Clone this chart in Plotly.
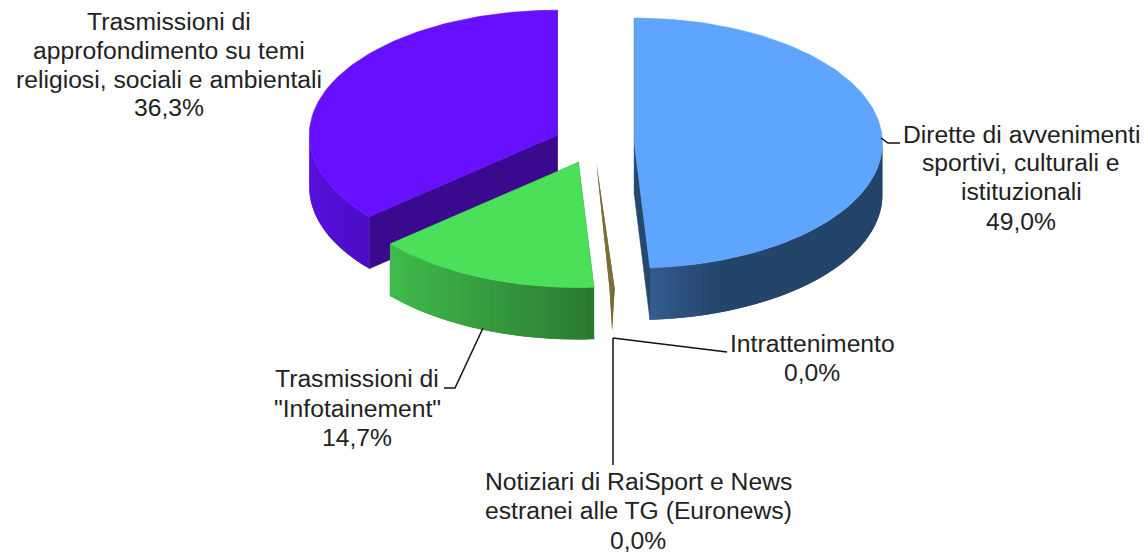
import math
import plotly.graph_objects as go

# Data, in drawing order around the pie (clockwise from 12 o'clock)
categories = ["Dirette di avvenimenti sportivi, culturali e istituzionali",
              "Intrattenimento",
              "Notiziari di RaiSport e News estranei alle TG (Euronews)",
              "Trasmissioni di \"Infotainement\"",
              "Trasmissioni di approfondimento su temi religiosi, sociali e ambientali"]
values = [49.0, 0.0, 0.0, 14.7, 36.3]
top_colors = ["#5FA4FF", "#7A6D3A", "#7A6D3A", "#4CDF5A", "#6610FF"]
wall_left = ["#345C90", "#7A6D3A", "#7A6D3A", "#40BA4C", "#5810DC"]
wall_right = ["#24456A", "#7A6D3A", "#7A6D3A", "#2A7A30", "#4A0CC4"]
face_colors = ["#26486E", "#7A6D3A", "#7A6D3A", "#2A7A30", "#3A0A8E"]
label_lines = [["Dirette di avvenimenti", "sportivi, culturali e", "istituzionali"],
               ["Intrattenimento"],
               ["Notiziari di RaiSport e News", "estranei alle TG (Euronews)"],
               ["Trasmissioni di", "\"Infotainement\""],
               ["Trasmissioni di", "approfondimento su temi", "religiosi, sociali e ambientali"]]

# Layout of the pseudo-3D pie, in page pixels
W, H = 1148, 555
PAGE_MARGIN = 8  # the page body's default margin
CX, CY, RX, RY, DEPTH, EXPLODE = 594, 143.7, 248, 125, 52, 0.163
MIN_SWEEP = 1.2  # near-zero slices still print as a sliver
SLIVER_DEPTH = 0.8
label_x = [1021, 812, 638, 357, 169]
label_y = [[134, 162, 191, 221], [343, 372], [481, 510, 540], [378, 408, 437], [21, 50, 79, 107]]
blue_ramp_end = 0.3
leaders = [[(881, 138), (888, 143), (900, 143)],
           [(483, 328), (455, 388), (444, 388)],
           [(613, 338), (727, 352)],
           [(613, 338), (613, 465)]]


def hex_rgb(c):
    return [int(c[i:i + 2], 16) for i in (1, 3, 5)]


def mix(a, b, t):
    ca, cb = hex_rgb(a), hex_rgb(b)
    return "rgb(%d,%d,%d)" % tuple(round(x + (y - x) * t) for x, y in zip(ca, cb))


def pt(cx, cy, ang, dz=0):
    r = math.radians(ang)
    return cx + RX * math.sin(r), cy - RY * math.cos(r) + dz


def poly(fig, pts, color, name=None, edge=0.6):
    xs = [p[0] for p in pts] + [pts[0][0]]
    ys = [p[1] for p in pts] + [pts[0][1]]
    fig.add_trace(go.Scatter(x=xs, y=ys, mode="lines", fill="toself", fillcolor=color,
                             line=dict(color=color, width=edge), showlegend=False,
                             hoverinfo="text" if name else "skip", text=name))


total = sum(values)
spans = []
slivers = []
acc = 0.0
for v in values:
    sweep = v / total * 360
    if sweep < MIN_SWEEP:
        mid = acc + sweep / 2
        spans.append((mid - MIN_SWEEP / 2, mid + MIN_SWEEP / 2))
        slivers.append(True)
    else:
        spans.append((acc, acc + sweep))
        slivers.append(False)
    acc += sweep

fig = go.Figure()
for i in [4, 1, 2, 3, 0]:
    a0, a1 = spans[i]
    mid = (a0 + a1) / 2
    r = math.radians(mid)
    cx = CX + EXPLODE * RX * math.sin(r)
    cy = CY - EXPLODE * RY * math.cos(r)
    if slivers[i]:
        p, q = pt(cx, cy, a0), pt(cx, cy, a1)
        m = pt(cx, cy, mid, DEPTH * SLIVER_DEPTH)
        poly(fig, [(cx, cy), p, m, q], top_colors[i], categories[i] + ": %.1f%%" % values[i], 0)
        continue
    # cut faces
    for a in (a0, a1):
        p = pt(cx, cy, a)
        poly(fig, [(cx, cy), p, (p[0], p[1] + DEPTH), (cx, cy + DEPTH)], face_colors[i])
    # outer wall, front half only, shaded left to right in page space
    w0, w1 = max(a0, 90), min(a1, 270)
    if w1 > w0:
        n = max(2, int((w1 - w0) / 1.5))
        angs = [w0 + (w1 - w0) * k / n for k in range(n + 1)]
        xmin = min(pt(cx, cy, a)[0] for a in angs)
        xmax = max(pt(cx, cy, a)[0] for a in angs)
        for k in range(n):
            # each strip runs under the next one, so no seam shows
            p = pt(cx, cy, angs[k])
            mid_pt = pt(cx, cy, angs[k + 1])
            q = pt(cx, cy, angs[min(k + 2, n)])
            t = ((p[0] + mid_pt[0]) / 2 - xmin) / max(xmax - xmin, 1)
            if i == 0:
                t = min(t / blue_ramp_end, 1)
            poly(fig, [p, mid_pt, q, (q[0], q[1] + DEPTH), (mid_pt[0], mid_pt[1] + DEPTH),
                       (p[0], p[1] + DEPTH)],
                 mix(wall_left[i], wall_right[i], t), edge=0)
    # top surface
    n = max(2, int((a1 - a0) / 1.5))
    arc = [pt(cx, cy, a0 + (a1 - a0) * k / n) for k in range(n + 1)]
    poly(fig, [(cx, cy)] + arc, top_colors[i], categories[i] + ": %.1f%%" % values[i])

annotations = []
for i, lines in enumerate(label_lines):
    pct = ("%.1f" % values[i]).replace(".", ",") + "%"
    for line, y in zip(lines + [pct], label_y[i]):
        annotations.append(dict(x=label_x[i], y=y, xref="x", yref="y", text=line, showarrow=False,
                                xanchor="center", yanchor="middle",
                                font=dict(family="Liberation Sans", size=24.7, color="#222222")))

shapes = []
for seg in leaders:
    path = "M " + " L ".join("%g,%g" % p for p in seg)
    shapes.append(dict(type="path", path=path, xref="x", yref="y",
                       line=dict(color="#111111", width=1.5)))

fig.update_layout(width=W - PAGE_MARGIN, height=H - PAGE_MARGIN,
                  margin=dict(l=0, r=0, t=0, b=0), autosize=False,
                  paper_bgcolor="white", plot_bgcolor="white", showlegend=False,
                  xaxis=dict(range=[PAGE_MARGIN, W], visible=False, fixedrange=True),
                  yaxis=dict(range=[H, PAGE_MARGIN], visible=False, fixedrange=True),
                  annotations=annotations, shapes=shapes)
fig.write_html("out.html", config=dict(displayModeBar=False))
